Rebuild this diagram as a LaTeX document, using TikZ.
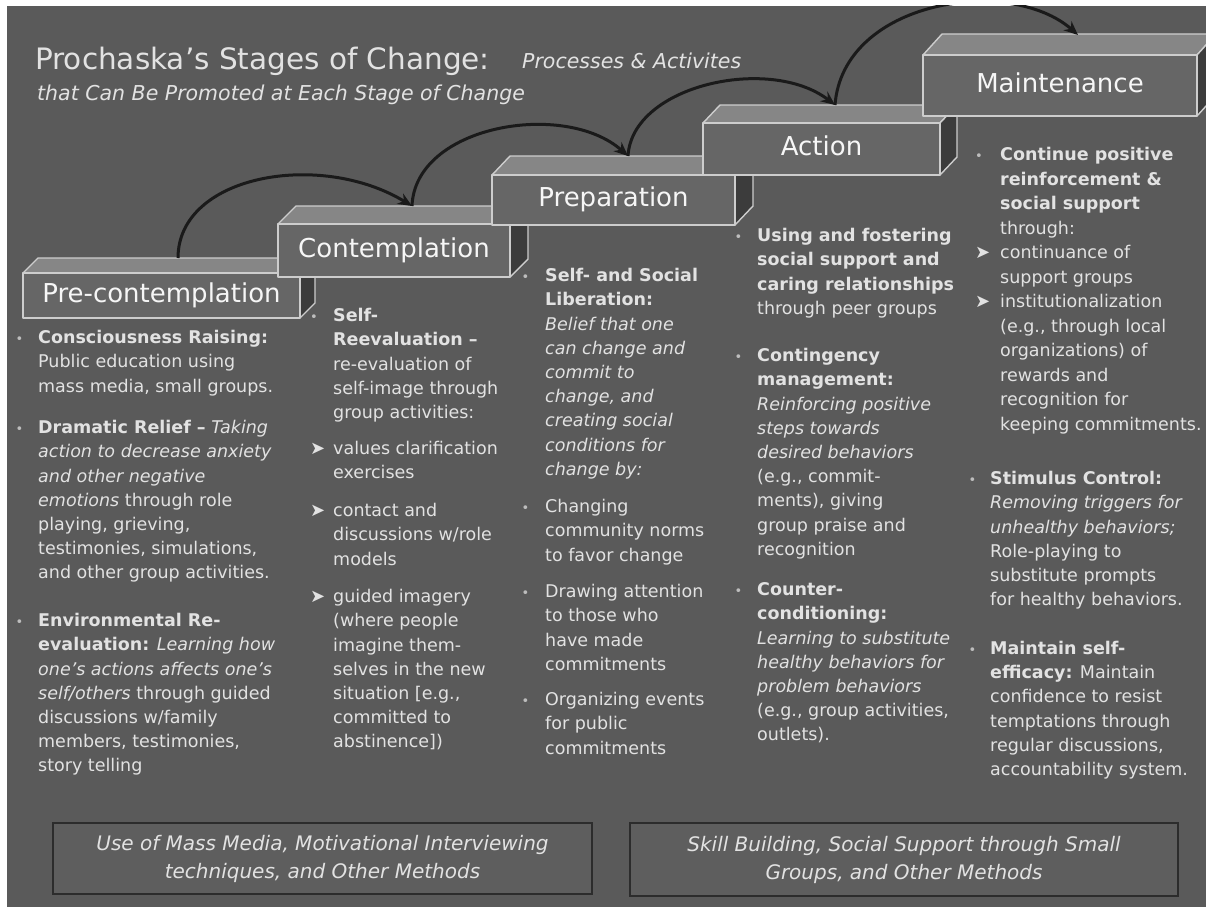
\documentclass[tikz,border=0pt]{standalone}
\usepackage{fontspec}
\setmainfont{DejaVu Sans}
\usetikzlibrary{arrows.meta}
\definecolor{slidebg}{HTML}{5A5A5A}
\definecolor{frontc}{HTML}{666666}
\definecolor{topc}{HTML}{868686}
\definecolor{sidec}{HTML}{3C3C3C}
\definecolor{edgec}{HTML}{CDCDCD}
\definecolor{txtc}{HTML}{E2E2E2}
\definecolor{bulc}{HTML}{BDBDBD}
\definecolor{arrowc}{HTML}{1A1A1A}
\definecolor{lowfill}{HTML}{5E5E5E}
\definecolor{lowedge}{HTML}{2C2C2C}
\newcommand\itembul{\raisebox{0.5pt}{\fontsize{13}{13}\selectfont\color{bulc}•}}
\newcommand\itemarr{\smash{\raisebox{0pt}{\fontsize{18}{18}\selectfont\color{txtc}➤}}}
\tikzset{
  boxedge/.style={draw=edgec, line width=1.4pt, line join=round},
  stagefront/.style={boxedge, fill=frontc, inner sep=0pt, text=white!93!gray,
    font=\fontsize{26}{30}\selectfont, text height=18pt, text depth=5pt},
  colnode/.style={anchor=north west, inner sep=0pt, text=txtc,
    font=\fontsize{17.5}{24.2}\selectfont},
  flow/.style={draw=arrowc, line width=3pt, -{Stealth[length=14pt,width=12pt]}},
  lowbox/.style={draw=lowedge, line width=2.5pt, fill=lowfill, text=txtc, align=center,
    inner sep=0pt, font=\fontsize{20}{28}\selectfont\itshape},
  titletext/.style={anchor=base west, inner sep=0pt, text=txtc},
}
% name, x1, y1, x2, y2, dx, dy, label
\newcommand\stagebox[8]{%
  \filldraw[boxedge, fill=topc] (#2,#3) -- (#2+#6,#3-#7) -- (#4+#6,#3-#7) -- (#4,#3) -- cycle;
  \filldraw[boxedge, fill=sidec] (#4,#3) -- (#4+#6,#3-#7) -- (#4+#6,#5-#7) -- (#4,#5) -- cycle;
  \node[stagefront, minimum width={#4pt-#2pt}, minimum height={#5pt-#3pt}] (#1)
    at ({(#2+#4)/2},{(#3+#5)/2}) {#8};
}
\begin{document}
\begin{tikzpicture}[x=1pt, y=-1pt]
\useasboundingbox (0,0) rectangle (1206,907);
\fill[white] (0,0) rectangle (1206,907);
\begin{scope}
\clip (7,6) rectangle (1206,907);
\fill[slidebg] (7,6) rectangle (1206,907);

% title
\node[titletext, font=\fontsize{29.5}{34}\selectfont] (title) at (35,70) {Prochaska’s Stages of Change:};
\node[titletext, font=\fontsize{20.5}{24}\selectfont\itshape] (subA) at (522,68) {Processes \& Activites};
\node[titletext, font=\fontsize{20.5}{24}\selectfont\itshape] (subB) at (37,100) {that Can Be Promoted at Each Stage of Change};

% stage boxes
\stagebox{pre}{23}{273}{300}{318}{15}{15}{Pre-contemplation}
\stagebox{con}{278}{224}{510}{277}{18}{18}{Contemplation}
\stagebox{prep}{492}{175}{735}{225}{18}{19}{Preparation}
\stagebox{act}{703}{123}{940}{175}{17}{18}{Action}
\stagebox{main}{923}{55}{1197}{116}{19}{21}{Maintenance}

% arrows
\coordinate (a0) at (178,258);
\coordinate (a1) at (412,206);
\coordinate (a2) at (628,156);
\coordinate (a3) at (835,105);
\coordinate (a4) at (1078,35);
\draw[flow] (a0) .. controls (178,175) and (320,150) .. (a1);
\draw[flow] (a1) .. controls (415,125) and (565,100) .. (a2);
\draw[flow] (a2) .. controls (632,85) and (770,55) .. (a3);
\draw[flow] (a3) .. controls (843,0) and (1010,-25) .. (a4);

% column 1
\node[colnode] (c1) at (15.5,326.6) {\begin{tabular}{@{}p{22.5pt}@{}l@{}}
\itembul & \textbf{Consciousness Raising:}\\
& Public education using\\
& mass media, small groups.\\[17.4pt]
\itembul & \textbf{Dramatic Relief –} \textit{Taking}\\
& \textit{action to decrease anxiety}\\
& \textit{and other negative}\\
& \textit{emotions} through role\\
& playing, grieving,\\
& testimonies, simulations,\\
& and other group activities.\\[23.6pt]
\itembul & \textbf{Environmental Re-}\\
& \textbf{evaluation:} \textit{Learning how}\\
& \textit{one’s actions affects one’s}\\
& \textit{self/others} through guided\\
& discussions w/family\\
& members, testimonies,\\
& story telling
\end{tabular}};

% column 2
\node[colnode] (c2) at (310,304.6) {\begin{tabular}{@{}p{23pt}@{}l@{}}
\itembul & \textbf{Self-}\\
& \textbf{Reevaluation –}\\
& re-evaluation of\\
& self-image through\\
& group activities:\\[12pt]
\itemarr & values clarification\\
& exercises\\[13.6pt]
\itemarr & contact and\\
& discussions w/role\\
& models\\[13.4pt]
\itemarr & guided imagery\\
& (where people\\
& imagine them-\\
& selves in the new\\
& situation [e.g.,\\
& committed to\\
& abstinence])
\end{tabular}};

% column 3
\node[colnode] (c3) at (521.5,264.6) {\begin{tabular}{@{}p{23.5pt}@{}l@{}}
\itembul & \textbf{Self- and Social}\\
& \textbf{Liberation:}\\
& \textit{Belief that one}\\
& \textit{can change and}\\
& \textit{commit to}\\
& \textit{change, and}\\
& \textit{creating social}\\
& \textit{conditions for}\\
& \textit{change by:}\\[13.2pt]
\itembul & Changing\\
& community norms\\
& to favor change\\[12.4pt]
\itembul & Drawing attention\\
& to those who\\
& have made\\
& commitments\\[11.2pt]
\itembul & Organizing events\\
& for public\\
& commitments
\end{tabular}};

% column 4
\node[colnode] (c4) at (734.5,224.6) {\begin{tabular}{@{}p{22.5pt}@{}l@{}}
\itembul & \textbf{Using and fostering}\\
& \textbf{social support and}\\
& \textbf{caring relationships}\\
& through peer groups\\[23.2pt]
\itembul & \textbf{Contingency}\\
& \textbf{management:}\\
& \textit{Reinforcing positive}\\
& \textit{steps towards}\\
& \textit{desired behaviors}\\
& (e.g., commit-\\
& ments), giving\\
& group praise and\\
& recognition\\[16.2pt]
\itembul & \textbf{Counter-}\\
& \textbf{conditioning:}\\
& \textit{Learning to substitute}\\
& \textit{healthy behaviors for}\\
& \textit{problem behaviors}\\
& (e.g., group activities,\\
& outlets).
\end{tabular}};

% column 5
\node[colnode, font=\fontsize{17.5}{24.5}\selectfont] (c5a) at (975,143.4) {\begin{tabular}{@{}p{25pt}@{}l@{}}
\itembul & \textbf{Continue positive}\\
& \textbf{reinforcement \&}\\
& \textbf{social support}\\
& through:\\
\itemarr & continuance of\\
& support groups\\
\itemarr & institutionalization\\
& (e.g., through local\\
& organizations) of\\
& rewards and\\
& recognition for\\
& keeping commitments.
\end{tabular}};
\node[colnode] (c5b) at (968.5,467.6) {\begin{tabular}{@{}p{21.5pt}@{}l@{}}
\itembul & \textbf{Stimulus Control:}\\
& \textit{Removing triggers for}\\
& \textit{unhealthy behaviors;}\\
& Role-playing to\\
& substitute prompts\\
& for healthy behaviors.\\[24.6pt]
\itembul & \textbf{Maintain self-}\\
& \textbf{efficacy:} Maintain\\
& confidence to resist\\
& temptations through\\
& regular discussions,\\
& accountability system.
\end{tabular}};

% bottom boxes
\node[lowbox, minimum width=539pt, minimum height=71pt] (methA) at (322.5,858.5)
  {Use of Mass Media, Motivational Interviewing\\techniques, and Other Methods};
\node[lowbox, minimum width=548pt, minimum height=73pt] (methB) at (904,859.5)
  {Skill Building, Social Support through Small\\Groups, and Other Methods};
\end{scope}
\end{tikzpicture}
\end{document}
